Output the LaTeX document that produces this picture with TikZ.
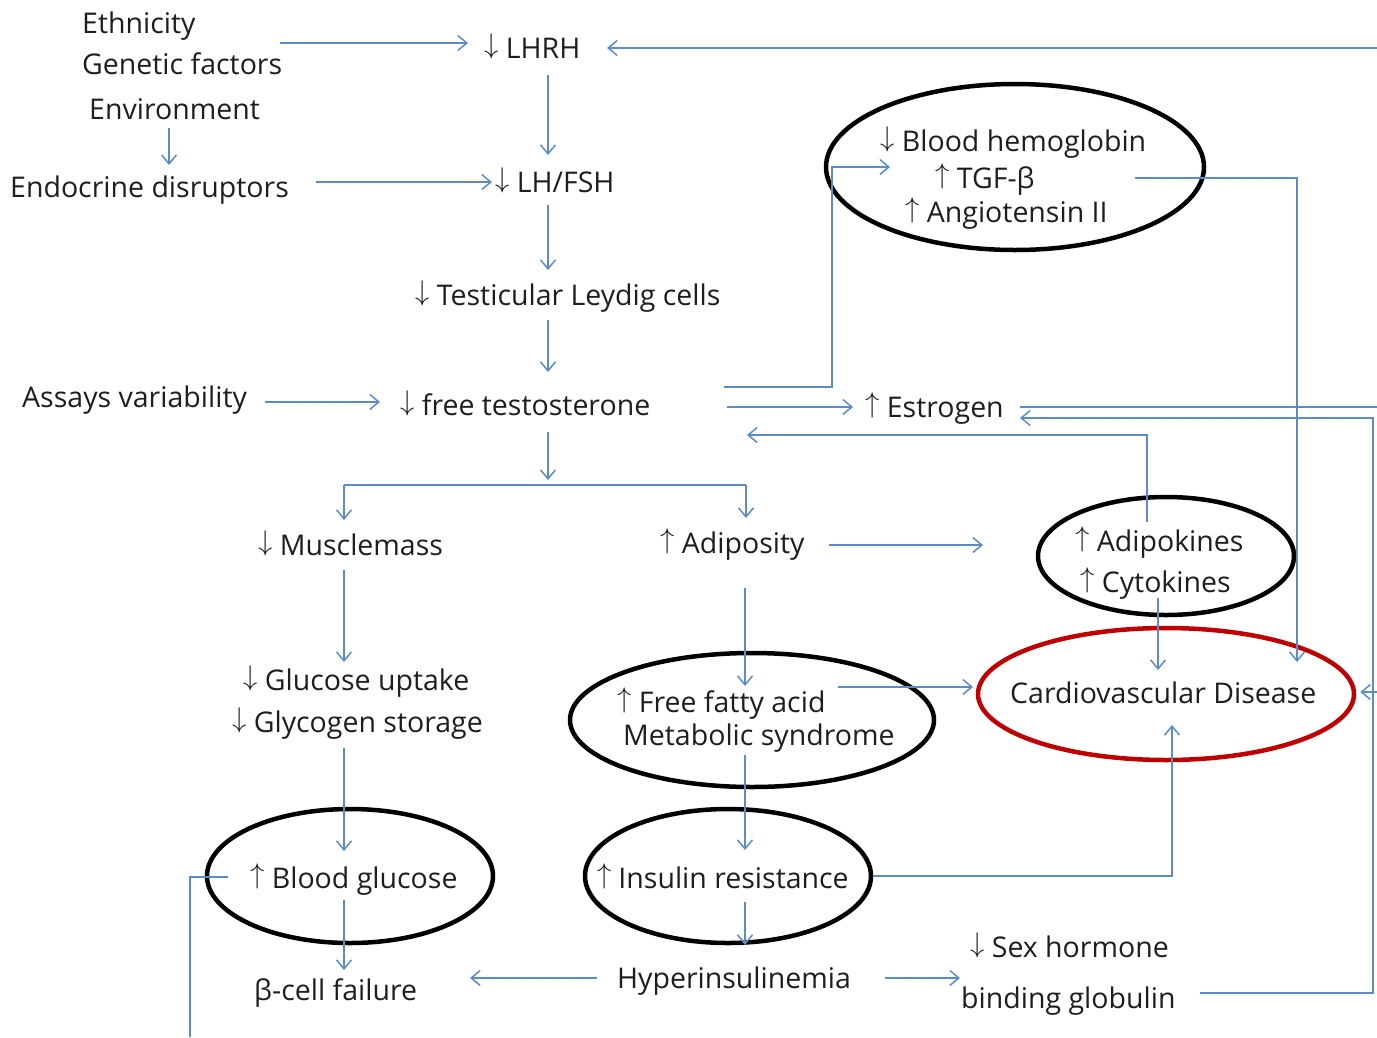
\documentclass[tikz,border=0pt]{standalone}
\usepackage{fix-cm}
\usepackage{fontspec}
\setmainfont{Open Sans}
\usetikzlibrary{arrows.meta,shapes.geometric,calc}
\definecolor{lineblue}{HTML}{5B8BC8}
\definecolor{txtcol}{HTML}{1E1E1E}
\definecolor{cvdred}{HTML}{C00000}
\newcommand\DnA{\smash{\raisebox{5pt}{$\downarrow$}}}
\newcommand\UpA{\smash{\raisebox{5pt}{$\uparrow$}}}
\begin{document}
\begin{tikzpicture}[x=1pt,y=-1pt,
  txt/.style={anchor=base west, inner sep=0pt, text=txtcol, font=\fontsize{28.5}{34}\selectfont},
  ell/.style={draw=black, line width=4.5pt, ellipse, inner sep=0pt},
  redell/.style={draw=cvdred, line width=4.5pt, ellipse, inner sep=0pt},
  line/.style={draw=lineblue, line width=1.5pt},
  arr/.style={line, -{Straight Barb[length=9pt,width=15pt]}}]
\useasboundingbox (0,0) rectangle (1377,1037);
% ---------- ellipses ----------
\node[ell, minimum width=378, minimum height=166] (e1) at (1015,167) {};
\node[ell, minimum width=256, minimum height=118] (e2) at (1166,556) {};
\node[ell, minimum width=364, minimum height=134] (e3) at (752,720) {};
\node[redell, minimum width=376, minimum height=132] (e4) at (1166,694) {};
\node[ell, minimum width=286, minimum height=134] (e5) at (350,876) {};
\node[ell, minimum width=286, minimum height=134] (e6) at (728,876) {};
% ---------- texts ----------
\node[txt] (eth) at (82,33) {Ethnicity};
\node[txt] (gen) at (82,74) {Genetic factors};
\node[txt] (env) at (89,119) {Environment};
\node[txt] (endo) at (10,197) {Endocrine disruptors};
\node[txt] (lhrh) at (484,58) {\DnA{} LHRH};
\node[txt] (lhfsh) at (495,192) {\DnA{} LH/FSH};
\node[txt] (leydig) at (415,305) {\DnA{} Testicular Leydig cells};
\node[txt] (assay) at (22,407) {Assays variability};
\node[txt] (freet) at (400,415) {\DnA{} free testosterone};
\node[txt] (estro) at (865,417) {\UpA{} Estrogen};
\node[txt] (hemo) at (880,151) {\DnA{} Blood hemoglobin};
\node[txt] (tgf) at (935,188) {\UpA{} TGF-β};
\node[txt] (angio) at (905,222) {\UpA{} Angiotensin II};
\node[txt] (muscle) at (258,555) {\DnA{} Musclemass};
\node[txt] (adip) at (660,553) {\UpA{} Adiposity};
\node[txt] (adipok) at (1075,551) {\UpA{} Adipokines};
\node[txt] (cyto) at (1080,592) {\UpA{} Cytokines};
\node[txt] (gup) at (243,690) {\DnA{} Glucose uptake};
\node[txt] (gly) at (232,732) {\DnA{} Glycogen storage};
\node[txt] (ffa) at (617,712) {\UpA{} Free fatty acid};
\node[txt] (metab) at (623,745) {Metabolic syndrome};
\node[txt] (cvd) at (1010,703) {Cardiovascular Disease};
\node[txt] (bg) at (250,888) {\UpA{} Blood glucose};
\node[txt] (ir) at (597,888) {\UpA\hspace{7pt}Insulin resistance};
\node[txt] (beta) at (254,1000) {β-cell failure};
\node[txt] (hyper) at (617,988) {Hyperinsulinemia};
\node[txt] (sex) at (970,957) {\DnA{} Sex hormone};
\node[txt] (bind) at (961,1008) {binding globulin};
% ---------- free ends ----------
\coordinate (edgeTop) at (1377,48);
\coordinate (edgeE) at (1377,407);
\coordinate (rail) at (1373,418);
\coordinate (edgeCVD) at (1377,692);
\coordinate (bottomL) at (190,1037);
% ---------- connectors ----------
\draw[arr] ($(gen.base west)+(198,-31)$) -- ($(lhrh.base west)+(-16,-15)$);
\draw[arr] ($(env.base west)+(80,9)$) -- ($(endo.base west)+(159,-32)$);
\draw[arr] ($(endo.base west)+(306,-15)$) -- ($(lhfsh.base west)+(-3,-10)$);
\draw[arr] ($(lhrh.base west)+(64,17)$) -- ($(lhfsh.base west)+(53,-37)$);
\draw[arr] ($(lhfsh.base west)+(53,13)$) -- ($(leydig.base west)+(133,-35)$);
\draw[arr] ($(leydig.base west)+(133,15)$) -- ($(freet.base west)+(148,-43)$);
\draw[arr] ($(assay.base west)+(243,-5)$) -- ($(freet.base west)+(-20,-13)$);
\draw[arr] ($(freet.base west)+(148,17)$) -- ($(freet.base west)+(148,65)$);
\coordinate (brL) at ($(muscle.base west)+(86,-70)$);
\coordinate (brR) at ($(adip.base west)+(86,-68)$);
\draw[line] (brL) -- (brR);
\draw[arr] (brL) -- ($(muscle.base west)+(86,-35)$);
\draw[arr] (brR) -- ($(adip.base west)+(86,-35)$);
\draw[arr] ($(freet.base west)+(324,-28)$) -| ($(e1.west)+(8,0)$) -- ($(tgf.base west)+(-45,-21)$);
\draw[arr] ($(freet.base west)+(327,-8)$) -- ($(estro.base west)+(-12,-10)$);
\draw[line] ($(estro.base west)+(155,-10)$) -- (edgeE);
\draw[arr] ($(bind.base west)+(239,-15)$) -| (rail) -- ($(estro.base west)+(155,1)$);
\draw[arr] ($(adipok.base west)+(72,-29)$) |- ($(freet.base west)+(347,20)$);
\draw[arr] ($(adip.base west)+(169,-8)$) -- ($(adipok.base west)+(-92,-6)$);
\draw[arr] ($(cyto.base west)+(78,6)$) -- ($(cvd.base west)+(148,-33)$);
\draw[arr] ($(tgf.base west)+(200,-10)$) -| ($(cvd.base west)+(287,-41)$);
\draw[arr] ($(adip.base west)+(85,35)$) -- ($(ffa.base west)+(128,-26)$);
\draw[arr] ($(ffa.base west)+(221,-25)$) -- ($(cvd.base west)+(-37,-16)$);
\draw[arr] ($(muscle.base west)+(86,15)$) -- ($(gup.base west)+(101,-28)$);
\draw[arr] ($(gly.base west)+(112,16)$) -- ($(bg.base west)+(94,-37)$);
\draw[arr] ($(bg.base west)+(94,12)$) -- ($(beta.base west)+(90,-30)$);
\draw[arr] ($(metab.base west)+(122,10)$) -- ($(ir.base west)+(148,-38)$);
\draw[arr] ($(ir.base west)+(148,14)$) -- ($(hyper.base west)+(128,-43)$);
\draw[arr] (e6.east) -| ($(cvd.base west)+(162,22)$);
\draw[arr] ($(hyper.base west)+(-20,-10)$) -- ($(beta.base west)+(216,-22)$);
\draw[arr] ($(hyper.base west)+(268,-10)$) -- ($(bind.base west)+(-1,-30)$);
\draw[line] ($(bg.base west)+(-22,-11)$) -| (bottomL);
\draw[arr] (edgeTop) -- ($(lhrh.base west)+(123,-10)$);
\draw[arr] (edgeCVD) -- ($(e4.east)+(4,-2)$);
\end{tikzpicture}
\end{document}
